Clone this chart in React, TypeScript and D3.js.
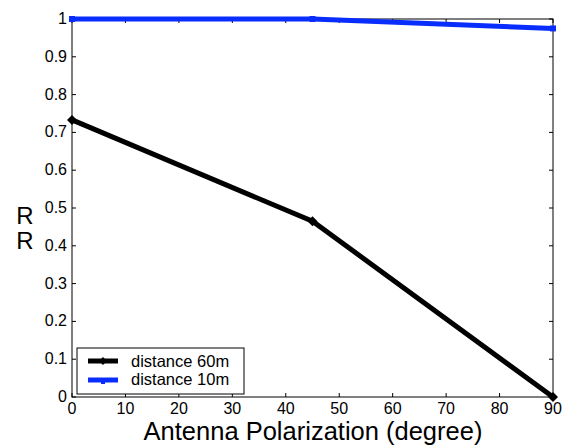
import React from "react";
import * as d3 from "d3";

const angles = [0, 45, 90];
const rr60 = [0.733, 0.465, 0.0];
const rr10 = [1.0, 1.0, 0.975];
const xTicks = [0, 10, 20, 30, 40, 50, 60, 70, 80, 90];
const yTicks = [0, 0.1, 0.2, 0.3, 0.4, 0.5, 0.6, 0.7, 0.8, 0.9, 1];
const seriesNames = ["distance 60m", "distance 10m"];

const W = 568, H = 447;
const L = 72, R = 553, T = 19, B = 397;
const font = "Liberation Sans, Arial, Helvetica, sans-serif";

export default function App() {
  const x = d3.scaleLinear().domain([0, 90]).range([L, R]);
  const y = d3.scaleLinear().domain([0, 1]).range([B, T]);
  const line = d3.line<number>().x((_, i) => x(angles[i])).y((d) => y(d));
  const diamond = (cx: number, cy: number, r: number) =>
    `M${cx},${cy - r}L${cx + r},${cy}L${cx},${cy + r}L${cx - r},${cy}Z`;
  const tk = 4;
  return (
    <svg width={W} height={H} style={{ position: "absolute", left: 0, top: 0 }} fontFamily={font}>
      <rect x={0} y={0} width={W} height={H} fill="#fff" />
      <rect x={L} y={T} width={R - L} height={B - T} fill="none" stroke="#000" strokeWidth={1} />
      {xTicks.map((t) => (
        <g key={"x" + t}>
          <line x1={x(t)} x2={x(t)} y1={B} y2={B - tk} stroke="#000" />
          <line x1={x(t)} x2={x(t)} y1={T} y2={T + tk} stroke="#000" />
          <text x={x(t)} y={B + 17} fontSize={16} textAnchor="middle">{t}</text>
        </g>
      ))}
      {yTicks.map((t) => (
        <g key={"y" + t}>
          <line x1={L} x2={L + tk} y1={y(t)} y2={y(t)} stroke="#000" />
          <line x1={R} x2={R - tk} y1={y(t)} y2={y(t)} stroke="#000" />
          <text x={L - 5} y={y(t) + 5} fontSize={16} textAnchor="end">{d3.format("")(+t.toFixed(1))}</text>
        </g>
      ))}
      <path d={line(rr60) || ""} fill="none" stroke="#000" strokeWidth={5} />
      {rr60.map((v, i) => (
        <path key={"m60" + i} d={diamond(x(angles[i]), y(v), 5)} fill="#000" />
      ))}
      <path d={line(rr10) || ""} fill="none" stroke="#0a2dff" strokeWidth={5} />
      {rr10.map((v, i) => (
        <rect key={"m10" + i} x={x(angles[i]) - 3} y={y(v) - 3} width={6} height={6} fill="#0a2dff" />
      ))}
      <rect x={77} y={348} width={167} height={46} fill="#fff" stroke="#000" strokeWidth={1} />
      <line x1={88} x2={118} y1={361} y2={361} stroke="#000" strokeWidth={5} />
      <path d={diamond(103, 361, 4)} fill="#000" />
      <text x={131} y={366.5} fontSize={16.5}>{seriesNames[0]}</text>
      <line x1={88} x2={118} y1={380} y2={380} stroke="#0a2dff" strokeWidth={5} />
      <rect x={101} y={379} width={4} height={5} fill="#0a2dff" />
      <text x={131} y={384.5} fontSize={16.5}>{seriesNames[1]}</text>
      <text x={313} y={440} fontSize={25.5} textAnchor="middle">Antenna Polarization (degree)</text>
      <text x={25} y={224} fontSize={24} textAnchor="middle">R</text>
      <text x={25} y={249} fontSize={24} textAnchor="middle">R</text>
    </svg>
  );
}
